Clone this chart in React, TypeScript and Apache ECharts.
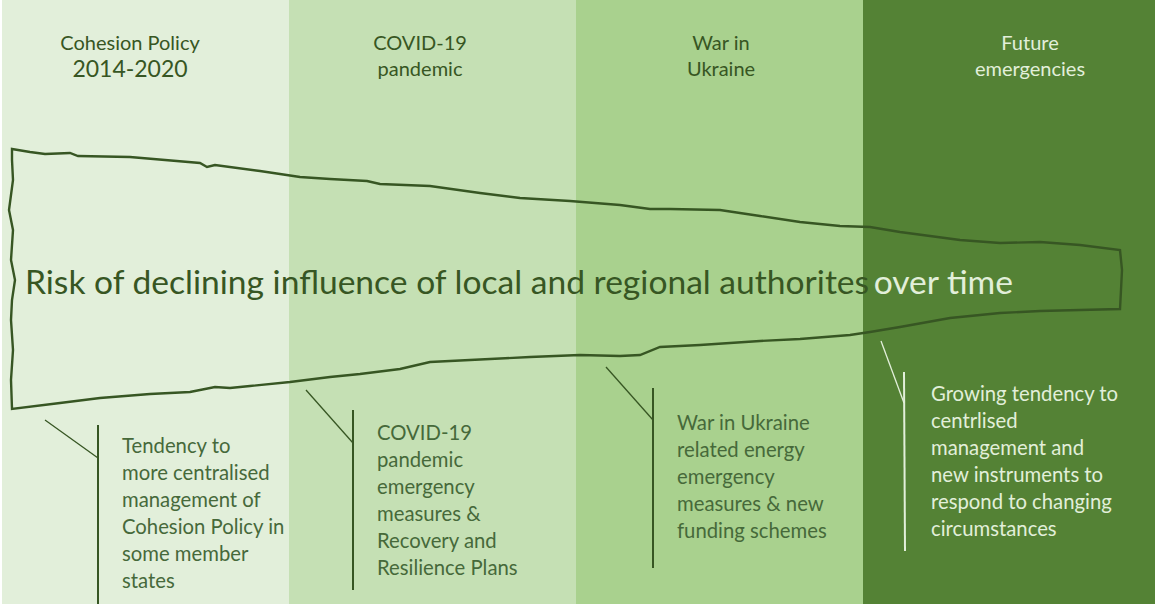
import React, { useEffect, useRef } from "react";
import * as echarts from "echarts";

// Column categories (periods)
const periods = ["Cohesion Policy 2014-2020", "COVID-19 pandemic", "War in Ukraine", "Future emergencies"];
const headerLine1 = ["Cohesion Policy", "COVID-19", "War in", "Future"];
const headerLine2 = ["2014-2020", "pandemic", "Ukraine", "emergencies"];
const bandValues = [1, 1, 1, 1];
const bandColors = ["#E2EFDA", "#C5E0B4", "#A9D18E", "#548235"];
const textColors = ["#375623", "#375623", "#375623", "#E2EFDA"];

const mainTextDark = "Risk of declining influence of local and regional authorites";
const mainTextLight = "over time";

const callouts = [
  "Tendency to\nmore centralised\nmanagement of\nCohesion Policy in\nsome member\nstates",
  "COVID-19\npandemic\nemergency\nmeasures &\nRecovery and\nResilience Plans",
  "War in Ukraine\nrelated energy\nemergency\nmeasures & new\nfunding schemes",
  "Growing tendency to\ncentrlised\nmanagement and\nnew instruments to\nrespond to changing\ncircumstances",
];

const FONT = "Lato, 'Open Sans', sans-serif";
const DARK = "#375623";

export default function App() {
  const ref = useRef<HTMLDivElement>(null);
  useEffect(() => {
    if (!ref.current) return;
    const chart = echarts.init(ref.current, null, { renderer: "svg" });

    const headerX = [130, 420, 721, 1030];
    const callout = [
      { d: [45, 420, 98, 458], v: [98, 425, 98, 604], tx: 122, ty: 445 },
      { d: [306, 390, 353, 443], v: [353, 410, 353, 590], tx: 377, ty: 432 },
      { d: [606, 367, 653, 420], v: [653, 388, 653, 568], tx: 677, ty: 422 },
      { d: [881, 341, 904, 403], v: [904, 372, 905, 551], tx: 931, ty: 393 },
    ];

    const shape = [
      [12, 149], [30, 152], [45, 154], [70, 153], [78, 156], [130, 157], [200, 163], [207, 167], [215, 165],
      [260, 171], [300, 177], [330, 179], [367, 181], [380, 184], [430, 186], [480, 193], [520, 198],
      [570, 201], [620, 205], [650, 209], [670, 209], [720, 210], [760, 216], [800, 222], [840, 226],
      [870, 227], [900, 232], [960, 240], [1000, 243], [1040, 242], [1080, 245], [1120, 250],
      [1122, 270], [1121, 290], [1120, 309],
      [1080, 310], [1040, 311], [1000, 313], [950, 318], [900, 327], [870, 332], [850, 335], [800, 339],
      [760, 341], [700, 345], [660, 347], [640, 355], [620, 356], [580, 355], [530, 357], [470, 360],
      [430, 362], [400, 369], [360, 374], [330, 377], [290, 382], [250, 386], [230, 388], [215, 387],
      [190, 392], [150, 394], [100, 398], [60, 403], [12, 409],
      [11, 380], [13, 350], [11, 320], [12, 300], [15, 280], [11, 260], [13, 230], [9, 210], [13, 180], [12, 160],
    ];

    const graphics: any[] = [];
    graphics.push({ type: "rect", z: -1, shape: { x: 1150, y: 0, width: 5, height: 604 }, style: { fill: bandColors[3] } });
    headerLine1.forEach((t, i) => {
      graphics.push({
        type: "text", z: 10, x: headerX[i], y: 42,
        style: { text: t, fill: textColors[i], font: `20px ${FONT}`, textAlign: "center", textVerticalAlign: "middle" },
      });
      graphics.push({
        type: "text", z: 10, x: headerX[i], y: 68,
        style: { text: headerLine2[i], fill: textColors[i], font: `${i === 0 ? 23 : 20}px ${FONT}`, textAlign: "center", textVerticalAlign: "middle" },
      });
    });
    graphics.push({
      type: "polygon", z: 10,
      shape: { points: shape },
      style: { fill: "none", stroke: DARK, lineWidth: 2.4 },
    });
    graphics.push({
      type: "text", z: 10, x: 25, y: 281,
      style: {
        text: `{a|${mainTextDark}} {b|${mainTextLight}}`,
        textVerticalAlign: "middle",
        rich: {
          a: { fill: DARK, font: `33.6px ${FONT}` },
          b: { fill: "#E2EFDA", font: `33.6px ${FONT}` },
        },
      },
    });
    callouts.forEach((t, i) => {
      const c = callout[i];
      const col = textColors[i];
      graphics.push({ type: "line", z: 10, shape: { x1: c.d[0], y1: c.d[1], x2: c.d[2], y2: c.d[3] }, style: { stroke: col, lineWidth: 1.3 } });
      graphics.push({ type: "line", z: 10, shape: { x1: c.v[0], y1: c.v[1], x2: c.v[2], y2: c.v[3] }, style: { stroke: col, lineWidth: 2 } });
      graphics.push({
        type: "text", z: 10, x: c.tx, y: c.ty - 13.5,
        style: { text: t, fill: i === 3 ? col : "#46693A", font: `20.3px ${FONT}`, lineHeight: 27, textAlign: "left", textVerticalAlign: "top" },
      });
    });

    chart.setOption({
      animation: false,
      grid: { left: 2, right: 5, top: 0, bottom: 0 },
      xAxis: { type: "category", data: periods, show: false },
      yAxis: { type: "value", min: 0, max: 1, show: false },
      series: [
        {
          type: "bar",
          z: 1,
          data: bandValues.map((v, i) => ({ value: v, itemStyle: { color: bandColors[i] } })),
          barWidth: "100%",
          barCategoryGap: 0,
          silent: true,
        },
      ],
      graphic: { elements: graphics },
    });
    return () => chart.dispose();
  }, []);
  return <div ref={ref} style={{ position: "fixed", left: 0, top: 0, width: 1155, height: 604, background: "#fff" }} />;
}
